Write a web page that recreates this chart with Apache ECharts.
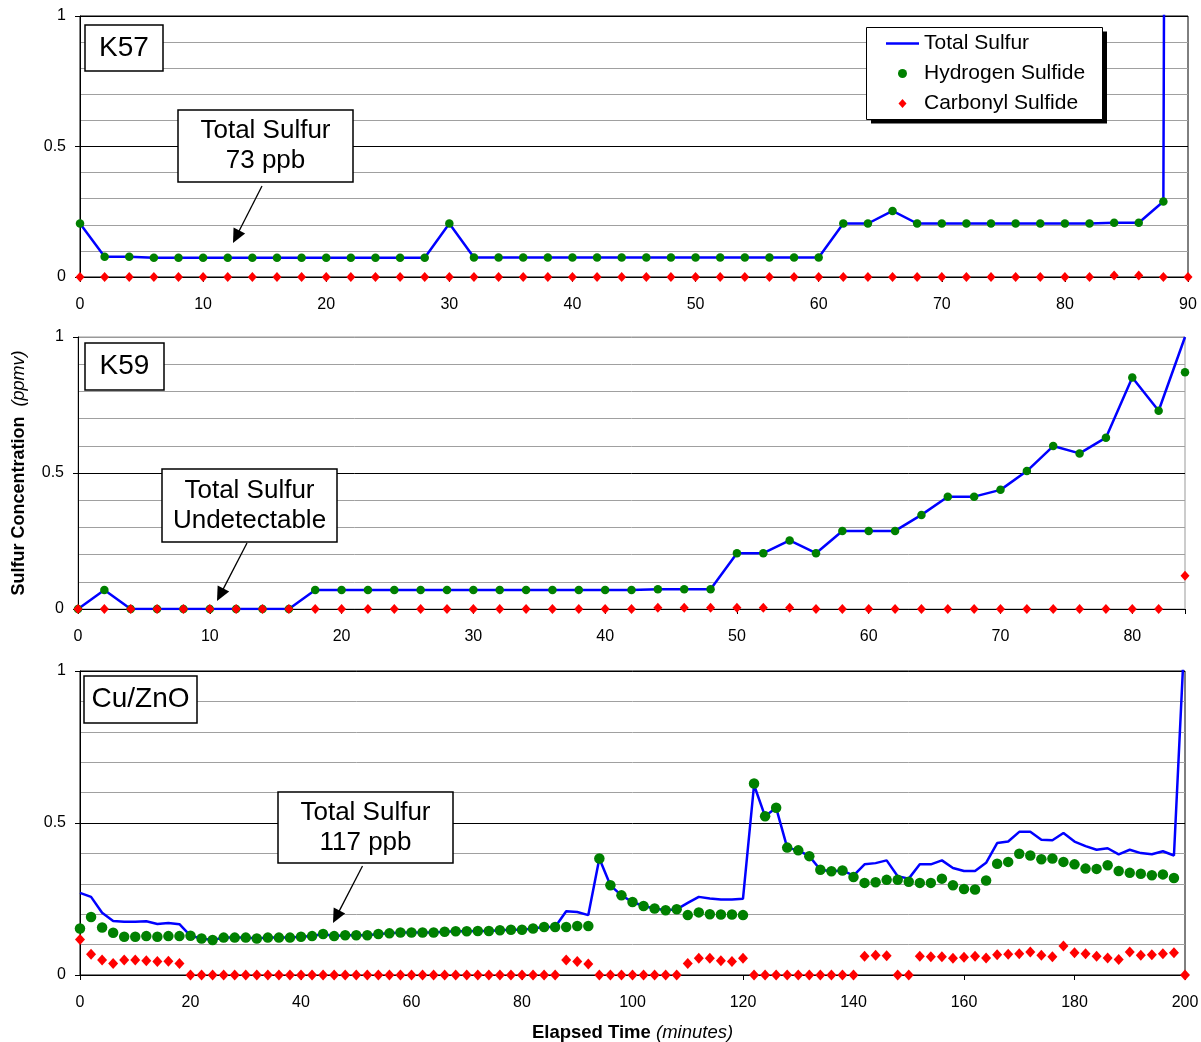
<!DOCTYPE html>
<html><head><meta charset="utf-8">
<script src="https://cdn.jsdelivr.net/npm/echarts@6/dist/echarts.min.js"></script>
<style>html,body{margin:0;padding:0;background:#fff}#c{width:1201px;height:1042px}</style>
</head><body><div id="c"></div><script>
// ---------------- DATA ----------------
const seriesNames = ['Total Sulfur', 'Hydrogen Sulfide', 'Carbonyl Sulfide'];
const panelLabels = ['K57', 'K59', 'Cu/ZnO'];
const noteLabels = ['Total Sulfur\n73 ppb', 'Total Sulfur\nUndetectable', 'Total Sulfur\n117 ppb'];

// Panel 1: K57
const k57Time = [0,2,4,6,8,10,12,14,16,18,20,22,24,26,28,30,32,34,36,38,40,42,44,46,48,50,52,54,56,58,60,62,64,66,68,70,72,74,76,78,80,82,84,86,88,90];
const k57Total = [0.205,0.078,0.078,0.074,0.074,0.074,0.074,0.074,0.074,0.074,0.074,0.074,0.074,0.074,0.074,0.205,
  0.075,0.075,0.075,0.075,0.075,0.075,0.075,0.075,0.075,0.075,0.075,0.075,0.075,0.075,0.075,
  0.205,0.205,0.253,0.205,0.205,0.205,0.205,0.205,0.205,0.205,0.205,0.208,0.208,0.289,30];
const k57H2S = [0.205,0.078,0.078,0.074,0.074,0.074,0.074,0.074,0.074,0.074,0.074,0.074,0.074,0.074,0.074,0.205,
  0.075,0.075,0.075,0.075,0.075,0.075,0.075,0.075,0.075,0.075,0.075,0.075,0.075,0.075,0.075,
  0.205,0.205,0.253,0.205,0.205,0.205,0.205,0.205,0.205,0.205,0.205,0.208,0.208,0.289,null];
const k57COS = [0,0,0,0,0,0,0,0,0,0,0,0,0,0,0,0,0,0,0,0,0,0,0,0,0,0,0,0,0,0,0,0,0,0,0,0,0,0,0,0,0,0,0.006,0.006,0,0];

// Panel 2: K59
const k59Time = [0,2,4,6,8,10,12,14,16,18,20,22,24,26,28,30,32,34,36,38,40,42,44,46,48,50,52,54,56,58,60,62,64,66,68,70,72,74,76,78,80,82,84];
const k59Total = [0,0.07,0,0,0,0,0,0,0,0.07,0.07,0.07,0.07,0.07,0.07,0.07,0.07,0.07,0.07,0.07,0.07,0.07,
  0.073,0.073,0.073,0.205,0.205,0.252,0.205,0.287,0.287,0.287,0.346,0.413,0.413,0.438,0.507,0.599,0.572,0.63,0.851,0.729,1.0];
const k59H2S = [0,0.07,0,0,0,0,0,0,0,0.07,0.07,0.07,0.07,0.07,0.07,0.07,0.07,0.07,0.07,0.07,0.07,0.07,
  0.073,0.073,0.073,0.205,0.205,0.252,0.205,0.287,0.287,0.287,0.346,0.413,0.413,0.438,0.507,0.599,0.572,0.63,0.851,0.729,0.87];
const k59COS = [0,0,0,0,0,0,0,0,0,0,0,0,0,0,0,0,0,0,0,0,0,0,0.005,0.005,0.005,0.005,0.005,0.005,0,0,0,0,0,0,0,0,0,0,0,0,0,0,0.122];

// Panel 3: Cu/ZnO
const cuTime = [0,2,4,6,8,10,12,14,16,18,20,22,24,26,28,30,32,34,36,38,40,42,44,46,48,50,52,54,56,58,60,62,64,66,68,70,72,74,76,78,80,82,84,86,88,90,92,94,96,98,
  100,102,104,106,108,110,112,114,116,118,120,122,124,126,128,130,132,134,136,138,140,142,144,146,148,150,152,154,156,158,160,162,164,166,168,170,172,174,176,178,180,182,184,186,188,190,192,194,196,198,200];
const cuTotal = [0.27,0.257,0.205,0.178,0.175,0.175,0.177,0.168,0.171,0.167,
  0.129,0.12,0.115,0.123,0.123,0.123,0.12,0.123,0.123,0.123,0.126,0.128,0.135,0.128,0.131,0.131,0.131,0.135,0.137,0.14,
  0.14,0.14,0.14,0.142,0.144,0.144,0.145,0.145,0.147,0.149,0.149,0.153,0.158,0.158,
  0.21,0.207,0.197,0.383,0.295,0.262,0.24,0.227,0.219,0.213,0.216,0.237,0.257,0.252,0.248,0.248,0.251,
  0.625,0.522,0.55,0.419,0.41,0.391,0.346,0.341,0.344,0.327,0.364,0.368,0.377,0.325,0.317,
  0.364,0.364,0.377,0.352,0.342,0.342,0.369,0.434,0.439,0.471,0.471,0.445,0.443,0.467,0.439,0.424,0.412,0.417,0.397,0.412,0.401,0.397,0.407,0.393,1.15];
const cuH2S = [0.153,0.191,0.156,0.139,0.126,0.126,0.128,0.126,0.128,0.128,
  0.129,0.12,0.115,0.123,0.123,0.123,0.12,0.123,0.123,0.123,0.126,0.128,0.135,0.128,0.131,0.131,0.131,0.135,0.137,0.14,
  0.14,0.14,0.14,0.142,0.144,0.144,0.145,0.145,0.147,0.149,0.149,0.153,0.158,0.158,
  0.158,0.161,0.161,0.383,0.295,0.262,0.24,0.227,0.219,0.213,0.216,0.197,0.206,0.2,0.199,0.199,0.197,
  0.63,0.522,0.55,0.419,0.41,0.391,0.346,0.341,0.344,0.322,0.303,0.305,0.313,0.313,0.307,
  0.303,0.303,0.317,0.295,0.283,0.281,0.311,0.366,0.372,0.399,0.393,0.381,0.383,0.372,0.364,0.35,0.349,0.361,0.342,0.336,0.333,0.328,0.331,0.319,null];
const cuCOS = [0.117,0.068,0.049,0.038,0.049,0.049,0.047,0.044,0.045,0.038,
  0,0,0,0,0,0,0,0,0,0,0,0,0,0,0,0,0,0,0,0,0,0,0,0,0,0,0,0,0,0,0,0,0,0,
  0.049,0.044,0.036,0,0,0,0,0,0,0,0,0.038,0.055,0.055,0.047,0.044,0.055,
  0,0,0,0,0,0,0,0,0,0,0.062,0.065,0.063,0,0,
  0.062,0.06,0.06,0.055,0.058,0.062,0.056,0.067,0.068,0.07,0.076,0.065,0.06,0.095,0.073,0.07,0.062,0.056,0.051,0.076,0.065,0.067,0.07,0.073,0];

// ---------------- CHART ----------------
const FONT = '"Liberation Sans", Arial, sans-serif';
function pairs(t, v) { const out = []; for (let i = 0; i < t.length; i++) { if (v[i] !== null && v[i] !== undefined) out.push([t[i], v[i]]); } return out; }

const chart = echarts.init(document.getElementById('c'), null, { renderer: 'canvas' });

const gridDefs = [
  { left: 80, top: 16, width: 1108, height: 261, border: '#000' },
  { left: 78, top: 337, width: 1107, height: 272, border: '#999' },
  { left: 80, top: 671, width: 1105, height: 304, border: '#000' }
];
const xMax = [90, 84, 200];
const xInt = [10, 10, 20];
const topLine = ['#000', '#999', '#000'];
const dotSize = [8.5, 8.5, 10.5];
const diaSize = [[9, 10], [9, 10], [10, 11]];

const grid = gridDefs.map(g => ({ left: g.left, top: g.top, width: g.width, height: g.height, show: true,
  borderColor: g.border, borderWidth: 1, backgroundColor: 'transparent', containLabel: false, outerBoundsMode: 'none' }));

const xAxis = [0, 1, 2].map(i => ({
  type: 'value', gridIndex: i, min: 0, max: xMax[i], interval: xInt[i],
  axisLine: { show: true, onZero: false, lineStyle: { color: '#000', width: 1 } },
  axisTick: { show: true, length: 5, lineStyle: { color: '#000' } },
  axisLabel: { fontFamily: FONT, fontSize: 16, color: '#000', margin: 20,
    formatter: v => (Math.abs(v % xInt[i]) < 1e-9 ? String(v) : '') },
  splitLine: { show: false },
  name: i === 2 ? '{b|Elapsed Time }{i|(minutes)}' : '',
  nameLocation: 'middle', nameGap: 48,
  nameTextStyle: { rich: {
    b: { fontFamily: FONT, fontWeight: 'bold', fontSize: 18.5, color: '#000' },
    i: { fontFamily: FONT, fontStyle: 'italic', fontSize: 18.5, color: '#000' } } }
}));

const yAxis = [0, 1, 2].map(i => ({
  type: 'value', gridIndex: i, min: 0, max: 1, interval: 0.5,
  axisLine: { show: true, lineStyle: { color: '#000', width: 1 } },
  axisTick: { show: true, length: 5, lineStyle: { color: '#000' } },
  axisLabel: { fontFamily: FONT, fontSize: 16, color: '#000', margin: 14 },
  splitLine: { show: true, lineStyle: { color: ['#000', '#000', topLine[i]], width: 1 } },
  minorTick: { show: false, splitNumber: 5 },
  minorSplitLine: { show: true, lineStyle: { color: '#a0a0a0', width: 1 } },
  name: i === 1 ? '{b|Sulfur Concentration  }{i|(ppmv)}' : '',
  nameLocation: 'middle', nameRotate: 90, nameGap: 50,
  nameTextStyle: { rich: {
    b: { fontFamily: FONT, fontWeight: 'bold', fontSize: 18, color: '#000' },
    i: { fontFamily: FONT, fontStyle: 'italic', fontSize: 18, color: '#000' } } }
}));

const panelData = [
  [k57Time, k57Total, k57H2S, k57COS],
  [k59Time, k59Total, k59H2S, k59COS],
  [cuTime, cuTotal, cuH2S, cuCOS]
];
const series = [];
panelData.forEach((p, i) => {
  series.push({ type: 'line', name: seriesNames[0], xAxisIndex: i, yAxisIndex: i, data: pairs(p[0], p[1]),
    symbol: 'none', clip: true, lineStyle: { color: '#0000ff', width: 2.5 }, itemStyle: { color: '#0000ff' }, z: 2 });
  series.push({ type: 'scatter', name: seriesNames[1], xAxisIndex: i, yAxisIndex: i, data: pairs(p[0], p[2]),
    symbol: 'circle', symbolSize: dotSize[i], symbolKeepAspect: true, clip: false,
    itemStyle: { color: '#008000', opacity: 1 }, z: 3 });
  series.push({ type: 'scatter', name: seriesNames[2], xAxisIndex: i, yAxisIndex: i, data: pairs(p[0], p[3]),
    symbol: 'diamond', symbolSize: diaSize[i], symbolKeepAspect: true, clip: false,
    itemStyle: { color: '#ff0000', opacity: 1 }, z: 4 });
});

function box(x, y, w, h, text, fs, lh) {
  return [
    { type: 'rect', shape: { x, y, width: w, height: h }, style: { fill: '#fff', stroke: '#000', lineWidth: 1.5 }, z: 100 },
    { type: 'text', x: x + w / 2, y: y + h / 2, z: 101,
      style: { text, fill: '#000', font: fs + 'px ' + FONT, align: 'center', verticalAlign: 'middle',
        textAlign: 'center', textVerticalAlign: 'middle', lineHeight: lh } }
  ];
}
function arrow(x1, y1, x2, y2) {
  const dx = x2 - x1, dy = y2 - y1, L = Math.hypot(dx, dy), ux = dx / L, uy = dy / L;
  const hl = 14, hw = 6.5, bx = x2 - ux * hl, by = y2 - uy * hl;
  return [
    { type: 'line', shape: { x1, y1, x2: bx + ux * 2, y2: by + uy * 2 }, style: { stroke: '#000', lineWidth: 1.3 }, z: 100 },
    { type: 'polygon', shape: { points: [[x2, y2], [bx - uy * hw, by + ux * hw], [bx + uy * hw, by - ux * hw]] }, style: { fill: '#000' }, z: 100 }
  ];
}

const legendFrame = [
  { type: 'rect', shape: { x: 871, y: 31.5, width: 236, height: 92 }, style: { fill: '#000' }, z: 1 },
  { type: 'rect', shape: { x: 866.5, y: 27.5, width: 236, height: 92 }, style: { fill: '#fff', stroke: '#000', lineWidth: 1 }, z: 1 }
];

const graphic = [].concat(
  legendFrame,
  box(85, 25, 78, 46, panelLabels[0], 28, 30),
  box(85, 343, 79, 47, panelLabels[1], 28, 30),
  box(84, 676, 113, 47, panelLabels[2], 28, 30),
  box(178, 110, 175, 72, noteLabels[0], 26, 30),
  box(162, 469, 175, 73, noteLabels[1], 26, 30),
  box(278, 792, 175, 71, noteLabels[2], 26, 30),
  arrow(262, 186, 233, 243),
  arrow(247, 543, 217, 601),
  arrow(362.5, 866, 333, 923)
);

chart.setOption({
  animation: false,
  backgroundColor: '#fff',
  grid, xAxis, yAxis, series, graphic,
  legend: {
    left: 866, top: 27, orient: 'vertical', padding: [6, 18, 6, 20], itemGap: 9,
    itemWidth: 33, itemHeight: 9, selectedMode: false, symbolKeepAspect: true,
    backgroundColor: 'transparent', borderWidth: 0,
    textStyle: { fontFamily: FONT, fontSize: 21, color: '#000', lineHeight: 21 },
    data: [
      { name: seriesNames[0], icon: 'path://M0,0 L132,0 L132,10 L0,10 Z' },
      { name: seriesNames[1], icon: 'circle' },
      { name: seriesNames[2], icon: 'path://M4,0 L8,4.5 L4,9 L0,4.5 Z' }
    ]
  }
});
</script></body></html>
